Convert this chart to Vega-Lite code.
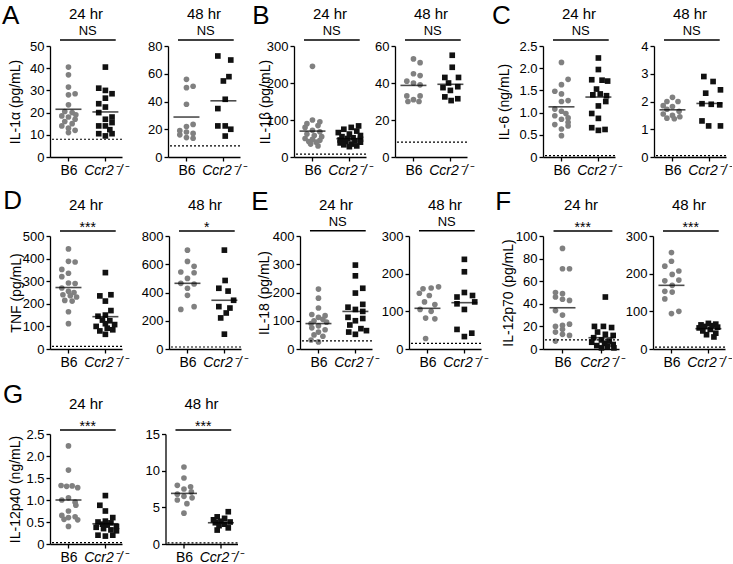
{
"$schema":"https://vega.github.io/schema/vega-lite/v6.json",
"padding":{"left":2,"top":2,"right":0,"bottom":0},
"config":{
 "view":{"stroke":null},
 "font":"Liberation Sans",
 "axis":{"domainColor":"#000","domainWidth":1.3,"tickColor":"#000","tickWidth":1.3,"tickSize":4,"labelColor":"#000","labelFont":"Liberation Sans","titleColor":"#000","titleFont":"Liberation Sans","titleFontSize":14,"titleFontWeight":"normal","grid":false,"labelPadding":2,"labelFlush":false,"labelOverlap":false},
 "axisX":{"labelFontSize":14},
 "axisY":{"labelFontSize":13},
 "title":{"font":"Liberation Sans","fontSize":15,"fontWeight":"normal","color":"#000","offset":3}
},
"datasets":{
"panels":[
{"p":"A24","lod":8,"sig":"NS"},{"p":"A48","lod":8,"sig":"NS"},
{"p":"B24","lod":8,"sig":"NS"},{"p":"B48","lod":8,"sig":"NS"},
{"p":"C24","lod":0.03,"sig":"NS"},{"p":"C48","lod":0.05,"sig":"NS"},
{"p":"D24","lod":12,"sig":"***"},{"p":"D48","lod":14,"sig":"*"},
{"p":"E24","lod":29,"sig":"NS"},{"p":"E48","lod":15,"sig":"NS"},
{"p":"F24","lod":8,"sig":"***"},{"p":"F48","lod":5,"sig":"***"},
{"p":"G24","lod":0.03,"sig":"***"},{"p":"G48","lod":0.15,"sig":"***"}
],
"means":[
{"p":"A24","x":1,"m":21.5},{"p":"A24","x":2,"m":20.3},{"p":"A48","x":1,"m":28.8},{"p":"A48","x":2,"m":40.5},
{"p":"B24","x":1,"m":70},{"p":"B24","x":2,"m":49.5},{"p":"B48","x":1,"m":38.7},{"p":"B48","x":2,"m":39.3},
{"p":"C24","x":1,"m":1.13},{"p":"C24","x":2,"m":1.35},{"p":"C48","x":1,"m":1.7},{"p":"C48","x":2,"m":1.93},
{"p":"D24","x":1,"m":272},{"p":"D24","x":2,"m":143},{"p":"D48","x":1,"m":465},{"p":"D48","x":2,"m":345},
{"p":"E24","x":1,"m":90},{"p":"E24","x":2,"m":133},{"p":"E48","x":1,"m":108},{"p":"E48","x":2,"m":123},
{"p":"F24","x":1,"m":36.5},{"p":"F24","x":2,"m":10},{"p":"F48","x":1,"m":169},{"p":"F48","x":2,"m":54},
{"p":"G24","x":1,"m":1.0},{"p":"G24","x":2,"m":0.46},{"p":"G48","x":1,"m":6.9},{"p":"G48","x":2,"m":2.9}
],
"pts":[
{"p":"A24","g":"B6","x":1,"y":40.5},{"p":"A24","g":"B6","x":1,"y":37},{"p":"A24","g":"B6","x":1,"y":31.5},{"p":"A24","g":"B6","x":1.18,"y":28.5},{"p":"A24","g":"B6","x":1,"y":28},{"p":"A24","g":"B6","x":1,"y":23.5},{"p":"A24","g":"B6","x":0.9,"y":20.5},{"p":"A24","g":"B6","x":1.1,"y":20},{"p":"A24","g":"B6","x":1.2,"y":19},{"p":"A24","g":"B6","x":0.82,"y":18.5},{"p":"A24","g":"B6","x":1,"y":18},{"p":"A24","g":"B6","x":1.18,"y":17},{"p":"A24","g":"B6","x":0.9,"y":16},{"p":"A24","g":"B6","x":1.1,"y":15},{"p":"A24","g":"B6","x":0.82,"y":14},{"p":"A24","g":"B6","x":1,"y":13},{"p":"A24","g":"B6","x":1.18,"y":12},{"p":"A24","g":"B6","x":1,"y":11},
{"p":"A24","g":"Ccr2","x":2,"y":40.5},{"p":"A24","g":"Ccr2","x":1.82,"y":31},{"p":"A24","g":"Ccr2","x":2,"y":30},{"p":"A24","g":"Ccr2","x":2.18,"y":28.5},{"p":"A24","g":"Ccr2","x":2,"y":26.5},{"p":"A24","g":"Ccr2","x":1.82,"y":24},{"p":"A24","g":"Ccr2","x":2,"y":22.5},{"p":"A24","g":"Ccr2","x":1.82,"y":20},{"p":"A24","g":"Ccr2","x":2.18,"y":18},{"p":"A24","g":"Ccr2","x":2,"y":17},{"p":"A24","g":"Ccr2","x":2.18,"y":15.5},{"p":"A24","g":"Ccr2","x":1.82,"y":14},{"p":"A24","g":"Ccr2","x":2,"y":14},{"p":"A24","g":"Ccr2","x":2.12,"y":12.3},{"p":"A24","g":"Ccr2","x":1.82,"y":10.5},{"p":"A24","g":"Ccr2","x":2.18,"y":10.5},{"p":"A24","g":"Ccr2","x":2,"y":9.5},
{"p":"A48","g":"B6","x":1,"y":56},{"p":"A48","g":"B6","x":1.18,"y":51},{"p":"A48","g":"B6","x":1,"y":50},{"p":"A48","g":"B6","x":1,"y":38},{"p":"A48","g":"B6","x":1.18,"y":23.5},{"p":"A48","g":"B6","x":1,"y":22},{"p":"A48","g":"B6","x":0.82,"y":19},{"p":"A48","g":"B6","x":1,"y":18},{"p":"A48","g":"B6","x":1.18,"y":17},{"p":"A48","g":"B6","x":0.82,"y":16},{"p":"A48","g":"B6","x":1,"y":14},{"p":"A48","g":"B6","x":1.18,"y":13.5},
{"p":"A48","g":"Ccr2","x":1.85,"y":72.8},{"p":"A48","g":"Ccr2","x":2.2,"y":69.9},{"p":"A48","g":"Ccr2","x":2.15,"y":57.9},{"p":"A48","g":"Ccr2","x":2,"y":54.8},{"p":"A48","g":"Ccr2","x":2.05,"y":41.6},{"p":"A48","g":"Ccr2","x":1.85,"y":34.9},{"p":"A48","g":"Ccr2","x":1.85,"y":22.4},{"p":"A48","g":"Ccr2","x":2.05,"y":22.4},{"p":"A48","g":"Ccr2","x":2.2,"y":20},{"p":"A48","g":"Ccr2","x":2.05,"y":15.1},
{"p":"B24","g":"B6","x":1,"y":245},{"p":"B24","g":"B6","x":1,"y":100},{"p":"B24","g":"B6","x":1.2,"y":95},{"p":"B24","g":"B6","x":0.85,"y":90},{"p":"B24","g":"B6","x":1.15,"y":85},{"p":"B24","g":"B6","x":0.8,"y":80},{"p":"B24","g":"B6","x":1,"y":72},{"p":"B24","g":"B6","x":1.2,"y":68},{"p":"B24","g":"B6","x":0.85,"y":62},{"p":"B24","g":"B6","x":1.05,"y":58},{"p":"B24","g":"B6","x":1.25,"y":55},{"p":"B24","g":"B6","x":0.8,"y":50},{"p":"B24","g":"B6","x":1,"y":48},{"p":"B24","g":"B6","x":1.2,"y":45},{"p":"B24","g":"B6","x":0.9,"y":42},{"p":"B24","g":"B6","x":1.1,"y":40},{"p":"B24","g":"B6","x":0.95,"y":35},{"p":"B24","g":"B6","x":1.15,"y":30},
{"p":"B24","g":"Ccr2","x":2.25,"y":84},{"p":"B24","g":"Ccr2","x":2.05,"y":80},{"p":"B24","g":"Ccr2","x":1.85,"y":75},{"p":"B24","g":"Ccr2","x":2.2,"y":70},{"p":"B24","g":"Ccr2","x":1.7,"y":66},{"p":"B24","g":"Ccr2","x":2,"y":62},{"p":"B24","g":"Ccr2","x":2.3,"y":58},{"p":"B24","g":"Ccr2","x":1.8,"y":55},{"p":"B24","g":"Ccr2","x":2.1,"y":52},{"p":"B24","g":"Ccr2","x":1.95,"y":50},{"p":"B24","g":"Ccr2","x":2.3,"y":48},{"p":"B24","g":"Ccr2","x":1.75,"y":46},{"p":"B24","g":"Ccr2","x":2.15,"y":44},{"p":"B24","g":"Ccr2","x":1.9,"y":42},{"p":"B24","g":"Ccr2","x":2.3,"y":40},{"p":"B24","g":"Ccr2","x":1.75,"y":38},{"p":"B24","g":"Ccr2","x":2.05,"y":35},{"p":"B24","g":"Ccr2","x":1.85,"y":33},{"p":"B24","g":"Ccr2","x":2.2,"y":30},{"p":"B24","g":"Ccr2","x":2,"y":28},
{"p":"B48","g":"B6","x":1,"y":53},{"p":"B48","g":"B6","x":1.18,"y":51},{"p":"B48","g":"B6","x":1,"y":45},{"p":"B48","g":"B6","x":1.18,"y":44},{"p":"B48","g":"B6","x":0.82,"y":41},{"p":"B48","g":"B6","x":1,"y":40},{"p":"B48","g":"B6","x":1.18,"y":39},{"p":"B48","g":"B6","x":0.82,"y":33},{"p":"B48","g":"B6","x":1.18,"y":33},{"p":"B48","g":"B6","x":1,"y":31},{"p":"B48","g":"B6","x":0.85,"y":30},{"p":"B48","g":"B6","x":1.15,"y":30},
{"p":"B48","g":"Ccr2","x":2.05,"y":55},{"p":"B48","g":"Ccr2","x":2.05,"y":48.5},{"p":"B48","g":"Ccr2","x":1.85,"y":43},{"p":"B48","g":"Ccr2","x":2.22,"y":43},{"p":"B48","g":"Ccr2","x":1.95,"y":40},{"p":"B48","g":"Ccr2","x":2.2,"y":38},{"p":"B48","g":"Ccr2","x":1.8,"y":37.5},{"p":"B48","g":"Ccr2","x":2,"y":36},{"p":"B48","g":"Ccr2","x":1.85,"y":32.5},{"p":"B48","g":"Ccr2","x":2.2,"y":31.5},{"p":"B48","g":"Ccr2","x":2.02,"y":30.5},
{"p":"C24","g":"B6","x":1,"y":2.13},{"p":"C24","g":"B6","x":1.18,"y":1.75},{"p":"C24","g":"B6","x":1,"y":1.63},{"p":"C24","g":"B6","x":0.82,"y":1.48},{"p":"C24","g":"B6","x":1,"y":1.42},{"p":"C24","g":"B6","x":1.18,"y":1.27},{"p":"C24","g":"B6","x":1,"y":1.25},{"p":"C24","g":"B6","x":0.82,"y":1.08},{"p":"C24","g":"B6","x":1,"y":1.03},{"p":"C24","g":"B6","x":1.12,"y":0.98},{"p":"C24","g":"B6","x":0.82,"y":0.93},{"p":"C24","g":"B6","x":1.18,"y":0.88},{"p":"C24","g":"B6","x":1,"y":0.85},{"p":"C24","g":"B6","x":1.18,"y":0.78},{"p":"C24","g":"B6","x":0.82,"y":0.73},{"p":"C24","g":"B6","x":1.18,"y":0.7},{"p":"C24","g":"B6","x":1,"y":0.63},{"p":"C24","g":"B6","x":1,"y":0.48},
{"p":"C24","g":"Ccr2","x":2,"y":2.23},{"p":"C24","g":"Ccr2","x":2,"y":1.97},{"p":"C24","g":"Ccr2","x":1.82,"y":1.74},{"p":"C24","g":"Ccr2","x":2.1,"y":1.73},{"p":"C24","g":"Ccr2","x":2.25,"y":1.71},{"p":"C24","g":"Ccr2","x":1.95,"y":1.53},{"p":"C24","g":"Ccr2","x":2.05,"y":1.42},{"p":"C24","g":"Ccr2","x":1.85,"y":1.4},{"p":"C24","g":"Ccr2","x":2.22,"y":1.38},{"p":"C24","g":"Ccr2","x":2.2,"y":1.25},{"p":"C24","g":"Ccr2","x":2,"y":1.15},{"p":"C24","g":"Ccr2","x":1.82,"y":0.98},{"p":"C24","g":"Ccr2","x":2,"y":0.87},{"p":"C24","g":"Ccr2","x":1.82,"y":0.66},{"p":"C24","g":"Ccr2","x":2,"y":0.6},{"p":"C24","g":"Ccr2","x":2.18,"y":0.62},
{"p":"C48","g":"B6","x":1,"y":2.15},{"p":"C48","g":"B6","x":0.85,"y":2.0},{"p":"C48","g":"B6","x":1.15,"y":2.0},{"p":"C48","g":"B6","x":0.75,"y":1.85},{"p":"C48","g":"B6","x":1,"y":1.82},{"p":"C48","g":"B6","x":0.85,"y":1.72},{"p":"C48","g":"B6","x":1.18,"y":1.65},{"p":"C48","g":"B6","x":0.75,"y":1.55},{"p":"C48","g":"B6","x":1,"y":1.5},{"p":"C48","g":"B6","x":1.2,"y":1.45},{"p":"C48","g":"B6","x":0.85,"y":1.4},{"p":"C48","g":"B6","x":1.05,"y":1.38},
{"p":"C48","g":"Ccr2","x":1.85,"y":2.9},{"p":"C48","g":"Ccr2","x":2.1,"y":2.72},{"p":"C48","g":"Ccr2","x":2.3,"y":2.42},{"p":"C48","g":"Ccr2","x":1.9,"y":2.3},{"p":"C48","g":"Ccr2","x":1.8,"y":1.92},{"p":"C48","g":"Ccr2","x":2.05,"y":1.9},{"p":"C48","g":"Ccr2","x":2.28,"y":1.88},{"p":"C48","g":"Ccr2","x":1.8,"y":1.3},{"p":"C48","g":"Ccr2","x":2.3,"y":1.12},{"p":"C48","g":"Ccr2","x":1.98,"y":1.12},
{"p":"D24","g":"B6","x":1,"y":443},{"p":"D24","g":"B6","x":1,"y":388},{"p":"D24","g":"B6","x":1.18,"y":385},{"p":"D24","g":"B6","x":0.82,"y":352},{"p":"D24","g":"B6","x":1,"y":335},{"p":"D24","g":"B6","x":0.82,"y":320},{"p":"D24","g":"B6","x":1,"y":292},{"p":"D24","g":"B6","x":1.18,"y":290},{"p":"D24","g":"B6","x":0.82,"y":270},{"p":"D24","g":"B6","x":1,"y":255},{"p":"D24","g":"B6","x":1.15,"y":250},{"p":"D24","g":"B6","x":0.85,"y":240},{"p":"D24","g":"B6","x":1.05,"y":236},{"p":"D24","g":"B6","x":1.22,"y":230},{"p":"D24","g":"B6","x":0.9,"y":215},{"p":"D24","g":"B6","x":1.1,"y":212},{"p":"D24","g":"B6","x":1,"y":165},{"p":"D24","g":"B6","x":1,"y":112},
{"p":"D24","g":"Ccr2","x":2,"y":338},{"p":"D24","g":"Ccr2","x":1.85,"y":235},{"p":"D24","g":"Ccr2","x":2.15,"y":240},{"p":"D24","g":"Ccr2","x":2,"y":212},{"p":"D24","g":"Ccr2","x":2.15,"y":170},{"p":"D24","g":"Ccr2","x":2,"y":150},{"p":"D24","g":"Ccr2","x":1.8,"y":145},{"p":"D24","g":"Ccr2","x":1.92,"y":128},{"p":"D24","g":"Ccr2","x":2.12,"y":125},{"p":"D24","g":"Ccr2","x":2,"y":112},{"p":"D24","g":"Ccr2","x":2.25,"y":108},{"p":"D24","g":"Ccr2","x":1.75,"y":100},{"p":"D24","g":"Ccr2","x":2.05,"y":92},{"p":"D24","g":"Ccr2","x":2.2,"y":85},{"p":"D24","g":"Ccr2","x":1.85,"y":80},{"p":"D24","g":"Ccr2","x":2,"y":65},
{"p":"D48","g":"B6","x":1,"y":700},{"p":"D48","g":"B6","x":1,"y":620},{"p":"D48","g":"B6","x":1.18,"y":585},{"p":"D48","g":"B6","x":0.82,"y":545},{"p":"D48","g":"B6","x":1.18,"y":540},{"p":"D48","g":"B6","x":1,"y":500},{"p":"D48","g":"B6","x":0.82,"y":465},{"p":"D48","g":"B6","x":1.18,"y":460},{"p":"D48","g":"B6","x":1,"y":430},{"p":"D48","g":"B6","x":1,"y":380},{"p":"D48","g":"B6","x":1.18,"y":300},{"p":"D48","g":"B6","x":0.82,"y":280},
{"p":"D48","g":"Ccr2","x":2,"y":700},{"p":"D48","g":"Ccr2","x":2.02,"y":485},{"p":"D48","g":"Ccr2","x":1.85,"y":430},{"p":"D48","g":"Ccr2","x":2.1,"y":410},{"p":"D48","g":"Ccr2","x":2.25,"y":345},{"p":"D48","g":"Ccr2","x":1.85,"y":300},{"p":"D48","g":"Ccr2","x":2.15,"y":290},{"p":"D48","g":"Ccr2","x":2.05,"y":255},{"p":"D48","g":"Ccr2","x":1.9,"y":220},{"p":"D48","g":"Ccr2","x":2,"y":105},
{"p":"E24","g":"B6","x":1,"y":212},{"p":"E24","g":"B6","x":1,"y":180},{"p":"E24","g":"B6","x":1,"y":145},{"p":"E24","g":"B6","x":0.82,"y":122},{"p":"E24","g":"B6","x":1.18,"y":118},{"p":"E24","g":"B6","x":1,"y":112},{"p":"E24","g":"B6","x":1.12,"y":105},{"p":"E24","g":"B6","x":0.88,"y":100},{"p":"E24","g":"B6","x":1.22,"y":95},{"p":"E24","g":"B6","x":0.8,"y":90},{"p":"E24","g":"B6","x":1,"y":82},{"p":"E24","g":"B6","x":0.82,"y":75},{"p":"E24","g":"B6","x":1.18,"y":68},{"p":"E24","g":"B6","x":1,"y":60},{"p":"E24","g":"B6","x":0.88,"y":50},{"p":"E24","g":"B6","x":1.12,"y":45},{"p":"E24","g":"B6","x":0.8,"y":32},{"p":"E24","g":"B6","x":1,"y":25},
{"p":"E24","g":"Ccr2","x":2,"y":297},{"p":"E24","g":"Ccr2","x":2,"y":259},{"p":"E24","g":"Ccr2","x":2.2,"y":215},{"p":"E24","g":"Ccr2","x":2,"y":198},{"p":"E24","g":"Ccr2","x":2.2,"y":158},{"p":"E24","g":"Ccr2","x":1.8,"y":148},{"p":"E24","g":"Ccr2","x":2,"y":140},{"p":"E24","g":"Ccr2","x":2.2,"y":133},{"p":"E24","g":"Ccr2","x":1.8,"y":112},{"p":"E24","g":"Ccr2","x":2.2,"y":108},{"p":"E24","g":"Ccr2","x":2,"y":100},{"p":"E24","g":"Ccr2","x":1.85,"y":85},{"p":"E24","g":"Ccr2","x":2.15,"y":72},{"p":"E24","g":"Ccr2","x":2.3,"y":65},{"p":"E24","g":"Ccr2","x":1.82,"y":60},{"p":"E24","g":"Ccr2","x":2,"y":52},
{"p":"E48","g":"B6","x":1.3,"y":165},{"p":"E48","g":"B6","x":1.1,"y":162},{"p":"E48","g":"B6","x":0.88,"y":160},{"p":"E48","g":"B6","x":0.78,"y":148},{"p":"E48","g":"B6","x":1.05,"y":142},{"p":"E48","g":"B6","x":0.92,"y":125},{"p":"E48","g":"B6","x":1.2,"y":118},{"p":"E48","g":"B6","x":0.8,"y":105},{"p":"E48","g":"B6","x":1.1,"y":100},{"p":"E48","g":"B6","x":0.95,"y":82},{"p":"E48","g":"B6","x":1.2,"y":80},{"p":"E48","g":"B6","x":0.95,"y":28},
{"p":"E48","g":"Ccr2","x":2,"y":238},{"p":"E48","g":"Ccr2","x":2,"y":205},{"p":"E48","g":"Ccr2","x":2,"y":150},{"p":"E48","g":"Ccr2","x":2.22,"y":142},{"p":"E48","g":"Ccr2","x":1.8,"y":138},{"p":"E48","g":"Ccr2","x":2.28,"y":125},{"p":"E48","g":"Ccr2","x":1.8,"y":120},{"p":"E48","g":"Ccr2","x":2,"y":105},{"p":"E48","g":"Ccr2","x":1.8,"y":52},{"p":"E48","g":"Ccr2","x":2.2,"y":42},{"p":"E48","g":"Ccr2","x":2,"y":33},
{"p":"F24","g":"B6","x":1,"y":89},{"p":"F24","g":"B6","x":1,"y":71},{"p":"F24","g":"B6","x":1.18,"y":71},{"p":"F24","g":"B6","x":0.82,"y":50},{"p":"F24","g":"B6","x":1,"y":49},{"p":"F24","g":"B6","x":0.82,"y":46},{"p":"F24","g":"B6","x":1,"y":44},{"p":"F24","g":"B6","x":1.18,"y":43},{"p":"F24","g":"B6","x":0.82,"y":34},{"p":"F24","g":"B6","x":1,"y":30},{"p":"F24","g":"B6","x":1.18,"y":22},{"p":"F24","g":"B6","x":1,"y":21},{"p":"F24","g":"B6","x":0.82,"y":20},{"p":"F24","g":"B6","x":1,"y":17.5},{"p":"F24","g":"B6","x":0.82,"y":15},{"p":"F24","g":"B6","x":1,"y":13},{"p":"F24","g":"B6","x":1.18,"y":12},{"p":"F24","g":"B6","x":0.82,"y":7},
{"p":"F24","g":"Ccr2","x":2.1,"y":46},{"p":"F24","g":"Ccr2","x":1.82,"y":20},{"p":"F24","g":"Ccr2","x":2.05,"y":20},{"p":"F24","g":"Ccr2","x":2.26,"y":19},{"p":"F24","g":"Ccr2","x":1.9,"y":15},{"p":"F24","g":"Ccr2","x":2.1,"y":13},{"p":"F24","g":"Ccr2","x":2.3,"y":12},{"p":"F24","g":"Ccr2","x":1.8,"y":10},{"p":"F24","g":"Ccr2","x":2,"y":8},{"p":"F24","g":"Ccr2","x":2.2,"y":7},{"p":"F24","g":"Ccr2","x":1.75,"y":6},{"p":"F24","g":"Ccr2","x":2.08,"y":5},{"p":"F24","g":"Ccr2","x":2.3,"y":4},{"p":"F24","g":"Ccr2","x":1.88,"y":3},{"p":"F24","g":"Ccr2","x":2.15,"y":2},{"p":"F24","g":"Ccr2","x":2,"y":1},{"p":"F24","g":"Ccr2","x":2.32,"y":1},
{"p":"F48","g":"B6","x":1,"y":256},{"p":"F48","g":"B6","x":1,"y":233},{"p":"F48","g":"B6","x":0.82,"y":220},{"p":"F48","g":"B6","x":1.2,"y":207},{"p":"F48","g":"B6","x":1.02,"y":198},{"p":"F48","g":"B6","x":0.82,"y":181},{"p":"F48","g":"B6","x":1.2,"y":183},{"p":"F48","g":"B6","x":1.02,"y":169},{"p":"F48","g":"B6","x":0.82,"y":153},{"p":"F48","g":"B6","x":1.02,"y":151},{"p":"F48","g":"B6","x":0.82,"y":133},{"p":"F48","g":"B6","x":1,"y":94},{"p":"F48","g":"B6","x":1.2,"y":100},
{"p":"F48","g":"Ccr2","x":2,"y":68},{"p":"F48","g":"Ccr2","x":2.2,"y":66},{"p":"F48","g":"Ccr2","x":1.8,"y":64},{"p":"F48","g":"Ccr2","x":2.1,"y":62},{"p":"F48","g":"Ccr2","x":1.9,"y":60},{"p":"F48","g":"Ccr2","x":2.25,"y":58},{"p":"F48","g":"Ccr2","x":1.75,"y":56},{"p":"F48","g":"Ccr2","x":2.05,"y":52},{"p":"F48","g":"Ccr2","x":1.85,"y":48},{"p":"F48","g":"Ccr2","x":2.2,"y":42},{"p":"F48","g":"Ccr2","x":1.95,"y":38},{"p":"F48","g":"Ccr2","x":2.15,"y":32},
{"p":"G24","g":"B6","x":1,"y":2.23},{"p":"G24","g":"B6","x":1,"y":1.68},{"p":"G24","g":"B6","x":0.8,"y":1.33},{"p":"G24","g":"B6","x":0.95,"y":1.31},{"p":"G24","g":"B6","x":1.1,"y":1.32},{"p":"G24","g":"B6","x":1.25,"y":1.28},{"p":"G24","g":"B6","x":1,"y":1.05},{"p":"G24","g":"B6","x":0.82,"y":1.0},{"p":"G24","g":"B6","x":1.18,"y":0.95},{"p":"G24","g":"B6","x":1.2,"y":0.88},{"p":"G24","g":"B6","x":1,"y":0.75},{"p":"G24","g":"B6","x":0.82,"y":0.65},{"p":"G24","g":"B6","x":1.18,"y":0.62},{"p":"G24","g":"B6","x":1,"y":0.6},{"p":"G24","g":"B6","x":0.88,"y":0.56},{"p":"G24","g":"B6","x":1.25,"y":0.55},{"p":"G24","g":"B6","x":1,"y":0.4},
{"p":"G24","g":"Ccr2","x":2,"y":1.1},{"p":"G24","g":"Ccr2","x":1.85,"y":0.88},{"p":"G24","g":"Ccr2","x":2,"y":0.75},{"p":"G24","g":"Ccr2","x":2.2,"y":0.6},{"p":"G24","g":"Ccr2","x":2,"y":0.52},{"p":"G24","g":"Ccr2","x":1.8,"y":0.5},{"p":"G24","g":"Ccr2","x":2.15,"y":0.48},{"p":"G24","g":"Ccr2","x":1.92,"y":0.45},{"p":"G24","g":"Ccr2","x":2.05,"y":0.43},{"p":"G24","g":"Ccr2","x":2.3,"y":0.4},{"p":"G24","g":"Ccr2","x":1.75,"y":0.38},{"p":"G24","g":"Ccr2","x":1.95,"y":0.35},{"p":"G24","g":"Ccr2","x":2.15,"y":0.32},{"p":"G24","g":"Ccr2","x":2.3,"y":0.3},{"p":"G24","g":"Ccr2","x":1.8,"y":0.2},{"p":"G24","g":"Ccr2","x":2,"y":0.18},{"p":"G24","g":"Ccr2","x":2.2,"y":0.2},
{"p":"G48","g":"B6","x":1,"y":10.5},{"p":"G48","g":"B6","x":1,"y":9.0},{"p":"G48","g":"B6","x":0.82,"y":8.0},{"p":"G48","g":"B6","x":1.18,"y":7.8},{"p":"G48","g":"B6","x":1,"y":7.5},{"p":"G48","g":"B6","x":1.2,"y":7.1},{"p":"G48","g":"B6","x":0.82,"y":6.8},{"p":"G48","g":"B6","x":1,"y":6.5},{"p":"G48","g":"B6","x":1.22,"y":6.3},{"p":"G48","g":"B6","x":0.82,"y":6.0},{"p":"G48","g":"B6","x":1.08,"y":5.5},{"p":"G48","g":"B6","x":1,"y":4.2},
{"p":"G48","g":"Ccr2","x":2.2,"y":4.4},{"p":"G48","g":"Ccr2","x":1.9,"y":3.7},{"p":"G48","g":"Ccr2","x":2.1,"y":3.5},{"p":"G48","g":"Ccr2","x":1.8,"y":3.3},{"p":"G48","g":"Ccr2","x":2,"y":3.1},{"p":"G48","g":"Ccr2","x":2.25,"y":3.0},{"p":"G48","g":"Ccr2","x":1.85,"y":2.9},{"p":"G48","g":"Ccr2","x":2.1,"y":2.7},{"p":"G48","g":"Ccr2","x":1.95,"y":2.5},{"p":"G48","g":"Ccr2","x":2.2,"y":2.2},{"p":"G48","g":"Ccr2","x":1.9,"y":1.9}
]
},
"spacing":12,
"vconcat":[
{"spacing":11,"vconcat":[
{"spacing":18,"hconcat":[
{"spacing":6,"hconcat":[
 {"title":{"text":"A","anchor":"start","fontSize":26,"offset":-22,"dx":-6,"frame":"bounds"},"spacing":19,"hconcat":[
  {"width":72,"height":111,"title":"24 hr","layer":[
   {"data":{"name":"pts"},"transform":[{"filter":"datum.p == 'A24'"}],"mark":{"type":"point","filled":true,"size":32,"opacity":1},"encoding":{
    "x":{"field":"x","type":"quantitative","scale":{"domain":[0.5,2.45],"nice":false,"zero":false},"axis":{"values":[1,2],"title":null,"labelExpr":"datum.value == 1 ? 'B6' : 'Ccr2⁻/⁻'","labelFontStyle":{"condition":{"test":"datum.value == 2","value":"italic"},"value":"normal"}}},
    "y":{"field":"y","type":"quantitative","scale":{"domain":[0,50],"nice":false},"axis":{"values":[0,10,20,30,40,50],"title":"IL-1α (pg/mL)","titlePadding":7.5}},
    "shape":{"field":"g","type":"nominal","scale":{"domain":["B6","Ccr2"],"range":["circle","square"]},"legend":null},
    "color":{"field":"g","type":"nominal","scale":{"domain":["B6","Ccr2"],"range":["#808080","#111111"]},"legend":null}}},
   {"data":{"name":"means"},"transform":[{"filter":"datum.p == 'A24'"}],"mark":{"type":"tick","orient":"horizontal","size":26,"thickness":1.6,"color":"#000"},"encoding":{"x":{"field":"x","type":"quantitative","title":null},"y":{"field":"m","type":"quantitative","axis":{"values":[0,10,20,30,40,50],"title":"IL-1α (pg/mL)","titlePadding":7.5}}}},
   {"data":{"name":"panels"},"transform":[{"filter":"datum.p == 'A24'"}],"mark":{"type":"rule","strokeDash":[2,2],"color":"#000","strokeWidth":1.2},"encoding":{"y":{"field":"lod","type":"quantitative","axis":{"values":[0,10,20,30,40,50],"title":"IL-1α (pg/mL)","titlePadding":7.5}}}},
   {"data":{"name":"panels"},"transform":[{"filter":"datum.p == 'A24'"}],"mark":{"type":"rule","color":"#000","strokeWidth":1.5},"encoding":{"x":{"datum":0.77},"x2":{"datum":2.28},"y":{"datum":52.7,"axis":{"values":[0,10,20,30,40,50],"title":"IL-1α (pg/mL)","titlePadding":7.5}}}},
   {"data":{"name":"panels"},"transform":[{"filter":"datum.p == 'A24'"}],"mark":{"type":"text","baseline":"bottom","dy":-2,"fontSize":13,"color":"#000"},"encoding":{"text":{"field":"sig"},"x":{"datum":1.52},"y":{"datum":52.7,"axis":{"values":[0,10,20,30,40,50],"title":"IL-1α (pg/mL)","titlePadding":7.5}}}}
  ]},
  {"width":72,"height":111,"title":"48 hr","layer":[
   {"data":{"name":"pts"},"transform":[{"filter":"datum.p == 'A48'"}],"mark":{"type":"point","filled":true,"size":32,"opacity":1},"encoding":{
    "x":{"field":"x","type":"quantitative","scale":{"domain":[0.5,2.45],"nice":false,"zero":false},"axis":{"values":[1,2],"title":null,"labelExpr":"datum.value == 1 ? 'B6' : 'Ccr2⁻/⁻'","labelFontStyle":{"condition":{"test":"datum.value == 2","value":"italic"},"value":"normal"}}},
    "y":{"field":"y","type":"quantitative","scale":{"domain":[0,80],"nice":false},"axis":{"values":[0,20,40,60,80],"title":null}},
    "shape":{"field":"g","type":"nominal","scale":{"domain":["B6","Ccr2"],"range":["circle","square"]},"legend":null},
    "color":{"field":"g","type":"nominal","scale":{"domain":["B6","Ccr2"],"range":["#808080","#111111"]},"legend":null}}},
   {"data":{"name":"means"},"transform":[{"filter":"datum.p == 'A48'"}],"mark":{"type":"tick","orient":"horizontal","size":26,"thickness":1.6,"color":"#000"},"encoding":{"x":{"field":"x","type":"quantitative","title":null},"y":{"field":"m","type":"quantitative","axis":{"values":[0,20,40,60,80],"title":null}}}},
   {"data":{"name":"panels"},"transform":[{"filter":"datum.p == 'A48'"}],"mark":{"type":"rule","strokeDash":[2,2],"color":"#000","strokeWidth":1.2},"encoding":{"y":{"field":"lod","type":"quantitative","axis":{"values":[0,20,40,60,80],"title":null}}}},
   {"data":{"name":"panels"},"transform":[{"filter":"datum.p == 'A48'"}],"mark":{"type":"rule","color":"#000","strokeWidth":1.5},"encoding":{"x":{"datum":0.77},"x2":{"datum":2.28},"y":{"datum":84.3,"axis":{"values":[0,20,40,60,80],"title":null}}}},
   {"data":{"name":"panels"},"transform":[{"filter":"datum.p == 'A48'"}],"mark":{"type":"text","baseline":"bottom","dy":-2,"fontSize":13,"color":"#000"},"encoding":{"text":{"field":"sig"},"x":{"datum":1.52},"y":{"datum":84.3,"axis":{"values":[0,20,40,60,80],"title":null}}}}
  ]}
 ]},
 {"title":{"text":"B","anchor":"start","fontSize":26,"offset":-22,"dx":-6,"frame":"bounds"},"spacing":2,"hconcat":[
  {"width":72,"height":111,"title":"24 hr","layer":[
   {"data":{"name":"pts"},"transform":[{"filter":"datum.p == 'B24'"}],"mark":{"type":"point","filled":true,"size":32,"opacity":1},"encoding":{
    "x":{"field":"x","type":"quantitative","scale":{"domain":[0.5,2.45],"nice":false,"zero":false},"axis":{"values":[1,2],"title":null,"labelExpr":"datum.value == 1 ? 'B6' : 'Ccr2⁻/⁻'","labelFontStyle":{"condition":{"test":"datum.value == 2","value":"italic"},"value":"normal"}}},
    "y":{"field":"y","type":"quantitative","scale":{"domain":[0,300],"nice":false},"axis":{"values":[0,100,200,300],"title":"IL-1β (pg/mL)","titlePadding":-6}},
    "shape":{"field":"g","type":"nominal","scale":{"domain":["B6","Ccr2"],"range":["circle","square"]},"legend":null},
    "color":{"field":"g","type":"nominal","scale":{"domain":["B6","Ccr2"],"range":["#808080","#111111"]},"legend":null}}},
   {"data":{"name":"means"},"transform":[{"filter":"datum.p == 'B24'"}],"mark":{"type":"tick","orient":"horizontal","size":26,"thickness":1.6,"color":"#000"},"encoding":{"x":{"field":"x","type":"quantitative","title":null},"y":{"field":"m","type":"quantitative","axis":{"values":[0,100,200,300],"title":"IL-1β (pg/mL)","titlePadding":-6}}}},
   {"data":{"name":"panels"},"transform":[{"filter":"datum.p == 'B24'"}],"mark":{"type":"rule","strokeDash":[2,2],"color":"#000","strokeWidth":1.2},"encoding":{"y":{"field":"lod","type":"quantitative","axis":{"values":[0,100,200,300],"title":"IL-1β (pg/mL)","titlePadding":-6}}}},
   {"data":{"name":"panels"},"transform":[{"filter":"datum.p == 'B24'"}],"mark":{"type":"rule","color":"#000","strokeWidth":1.5},"encoding":{"x":{"datum":0.77},"x2":{"datum":2.28},"y":{"datum":316,"axis":{"values":[0,100,200,300],"title":"IL-1β (pg/mL)","titlePadding":-6}}}},
   {"data":{"name":"panels"},"transform":[{"filter":"datum.p == 'B24'"}],"mark":{"type":"text","baseline":"bottom","dy":-2,"fontSize":13,"color":"#000"},"encoding":{"text":{"field":"sig"},"x":{"datum":1.52},"y":{"datum":316,"axis":{"values":[0,100,200,300],"title":"IL-1β (pg/mL)","titlePadding":-6}}}}
  ]},
  {"width":72,"height":111,"title":"48 hr","layer":[
   {"data":{"name":"pts"},"transform":[{"filter":"datum.p == 'B48'"}],"mark":{"type":"point","filled":true,"size":32,"opacity":1},"encoding":{
    "x":{"field":"x","type":"quantitative","scale":{"domain":[0.5,2.45],"nice":false,"zero":false},"axis":{"values":[1,2],"title":null,"labelExpr":"datum.value == 1 ? 'B6' : 'Ccr2⁻/⁻'","labelFontStyle":{"condition":{"test":"datum.value == 2","value":"italic"},"value":"normal"}}},
    "y":{"field":"y","type":"quantitative","scale":{"domain":[0,60],"nice":false},"axis":{"values":[0,20,40,60],"title":null}},
    "shape":{"field":"g","type":"nominal","scale":{"domain":["B6","Ccr2"],"range":["circle","square"]},"legend":null},
    "color":{"field":"g","type":"nominal","scale":{"domain":["B6","Ccr2"],"range":["#808080","#111111"]},"legend":null}}},
   {"data":{"name":"means"},"transform":[{"filter":"datum.p == 'B48'"}],"mark":{"type":"tick","orient":"horizontal","size":26,"thickness":1.6,"color":"#000"},"encoding":{"x":{"field":"x","type":"quantitative","title":null},"y":{"field":"m","type":"quantitative","axis":{"values":[0,20,40,60],"title":null}}}},
   {"data":{"name":"panels"},"transform":[{"filter":"datum.p == 'B48'"}],"mark":{"type":"rule","strokeDash":[2,2],"color":"#000","strokeWidth":1.2},"encoding":{"y":{"field":"lod","type":"quantitative","axis":{"values":[0,20,40,60],"title":null}}}},
   {"data":{"name":"panels"},"transform":[{"filter":"datum.p == 'B48'"}],"mark":{"type":"rule","color":"#000","strokeWidth":1.5},"encoding":{"x":{"datum":0.77},"x2":{"datum":2.28},"y":{"datum":63.2,"axis":{"values":[0,20,40,60],"title":null}}}},
   {"data":{"name":"panels"},"transform":[{"filter":"datum.p == 'B48'"}],"mark":{"type":"text","baseline":"bottom","dy":-2,"fontSize":13,"color":"#000"},"encoding":{"text":{"field":"sig"},"x":{"datum":1.52},"y":{"datum":63.2,"axis":{"values":[0,20,40,60],"title":null}}}}
  ]}
 ]}
]},
 {"title":{"text":"C","anchor":"start","fontSize":26,"offset":-22,"dx":-6,"frame":"bounds"},"spacing":19,"hconcat":[
  {"width":72,"height":111,"title":"24 hr","layer":[
   {"data":{"name":"pts"},"transform":[{"filter":"datum.p == 'C24'"}],"mark":{"type":"point","filled":true,"size":32,"opacity":1},"encoding":{
    "x":{"field":"x","type":"quantitative","scale":{"domain":[0.5,2.45],"nice":false,"zero":false},"axis":{"values":[1,2],"title":null,"labelExpr":"datum.value == 1 ? 'B6' : 'Ccr2⁻/⁻'","labelFontStyle":{"condition":{"test":"datum.value == 2","value":"italic"},"value":"normal"}}},
    "y":{"field":"y","type":"quantitative","scale":{"domain":[0,2.5],"nice":false},"axis":{"values":[0,0.5,1,1.5,2,2.5],"labelExpr":"datum.value == 0 ? '0' : format(datum.value, '.1f')","title":"IL-6 (ng/mL)","titlePadding":7}},
    "shape":{"field":"g","type":"nominal","scale":{"domain":["B6","Ccr2"],"range":["circle","square"]},"legend":null},
    "color":{"field":"g","type":"nominal","scale":{"domain":["B6","Ccr2"],"range":["#808080","#111111"]},"legend":null}}},
   {"data":{"name":"means"},"transform":[{"filter":"datum.p == 'C24'"}],"mark":{"type":"tick","orient":"horizontal","size":26,"thickness":1.6,"color":"#000"},"encoding":{"x":{"field":"x","type":"quantitative","title":null},"y":{"field":"m","type":"quantitative","axis":{"values":[0,0.5,1,1.5,2,2.5],"labelExpr":"datum.value == 0 ? '0' : format(datum.value, '.1f')","title":"IL-6 (ng/mL)","titlePadding":7}}}},
   {"data":{"name":"panels"},"transform":[{"filter":"datum.p == 'C24'"}],"mark":{"type":"rule","strokeDash":[2,2],"color":"#000","strokeWidth":1.2},"encoding":{"y":{"field":"lod","type":"quantitative","axis":{"values":[0,0.5,1,1.5,2,2.5],"labelExpr":"datum.value == 0 ? '0' : format(datum.value, '.1f')","title":"IL-6 (ng/mL)","titlePadding":7}}}},
   {"data":{"name":"panels"},"transform":[{"filter":"datum.p == 'C24'"}],"mark":{"type":"rule","color":"#000","strokeWidth":1.5},"encoding":{"x":{"datum":0.77},"x2":{"datum":2.28},"y":{"datum":2.635,"axis":{"values":[0,0.5,1,1.5,2,2.5],"labelExpr":"datum.value == 0 ? '0' : format(datum.value, '.1f')","title":"IL-6 (ng/mL)","titlePadding":7}}}},
   {"data":{"name":"panels"},"transform":[{"filter":"datum.p == 'C24'"}],"mark":{"type":"text","baseline":"bottom","dy":-2,"fontSize":13,"color":"#000"},"encoding":{"text":{"field":"sig"},"x":{"datum":1.52},"y":{"datum":2.635,"axis":{"values":[0,0.5,1,1.5,2,2.5],"labelExpr":"datum.value == 0 ? '0' : format(datum.value, '.1f')","title":"IL-6 (ng/mL)","titlePadding":7}}}}
  ]},
  {"width":72,"height":111,"title":"48 hr","layer":[
   {"data":{"name":"pts"},"transform":[{"filter":"datum.p == 'C48'"}],"mark":{"type":"point","filled":true,"size":32,"opacity":1},"encoding":{
    "x":{"field":"x","type":"quantitative","scale":{"domain":[0.5,2.45],"nice":false,"zero":false},"axis":{"values":[1,2],"title":null,"labelExpr":"datum.value == 1 ? 'B6' : 'Ccr2⁻/⁻'","labelFontStyle":{"condition":{"test":"datum.value == 2","value":"italic"},"value":"normal"}}},
    "y":{"field":"y","type":"quantitative","scale":{"domain":[0,4],"nice":false},"axis":{"values":[0,1,2,3,4],"title":null}},
    "shape":{"field":"g","type":"nominal","scale":{"domain":["B6","Ccr2"],"range":["circle","square"]},"legend":null},
    "color":{"field":"g","type":"nominal","scale":{"domain":["B6","Ccr2"],"range":["#808080","#111111"]},"legend":null}}},
   {"data":{"name":"means"},"transform":[{"filter":"datum.p == 'C48'"}],"mark":{"type":"tick","orient":"horizontal","size":26,"thickness":1.6,"color":"#000"},"encoding":{"x":{"field":"x","type":"quantitative","title":null},"y":{"field":"m","type":"quantitative","axis":{"values":[0,1,2,3,4],"title":null}}}},
   {"data":{"name":"panels"},"transform":[{"filter":"datum.p == 'C48'"}],"mark":{"type":"rule","strokeDash":[2,2],"color":"#000","strokeWidth":1.2},"encoding":{"y":{"field":"lod","type":"quantitative","axis":{"values":[0,1,2,3,4],"title":null}}}},
   {"data":{"name":"panels"},"transform":[{"filter":"datum.p == 'C48'"}],"mark":{"type":"rule","color":"#000","strokeWidth":1.5},"encoding":{"x":{"datum":0.77},"x2":{"datum":2.28},"y":{"datum":4.22,"axis":{"values":[0,1,2,3,4],"title":null}}}},
   {"data":{"name":"panels"},"transform":[{"filter":"datum.p == 'C48'"}],"mark":{"type":"text","baseline":"bottom","dy":-2,"fontSize":13,"color":"#000"},"encoding":{"text":{"field":"sig"},"x":{"datum":1.52},"y":{"datum":4.22,"axis":{"values":[0,1,2,3,4],"title":null}}}}
  ]}
 ]}
]},
{"spacing":8,"hconcat":[
{"spacing":4,"hconcat":[
 {"title":{"text":"D","anchor":"start","fontSize":26,"offset":-16,"dx":-6,"frame":"bounds"},"spacing":13,"hconcat":[
  {"width":72,"height":113,"title":{"text":"24 hr","offset":8},"layer":[
   {"data":{"name":"pts"},"transform":[{"filter":"datum.p == 'D24'"}],"mark":{"type":"point","filled":true,"size":32,"opacity":1},"encoding":{
    "x":{"field":"x","type":"quantitative","scale":{"domain":[0.5,2.45],"nice":false,"zero":false},"axis":{"values":[1,2],"title":null,"labelExpr":"datum.value == 1 ? 'B6' : 'Ccr2⁻/⁻'","labelFontStyle":{"condition":{"test":"datum.value == 2","value":"italic"},"value":"normal"}}},
    "y":{"field":"y","type":"quantitative","scale":{"domain":[0,500],"nice":false},"axis":{"values":[0,100,200,300,400,500],"title":"TNF (pg/mL)","titlePadding":-1}},
    "shape":{"field":"g","type":"nominal","scale":{"domain":["B6","Ccr2"],"range":["circle","square"]},"legend":null},
    "color":{"field":"g","type":"nominal","scale":{"domain":["B6","Ccr2"],"range":["#808080","#111111"]},"legend":null}}},
   {"data":{"name":"means"},"transform":[{"filter":"datum.p == 'D24'"}],"mark":{"type":"tick","orient":"horizontal","size":26,"thickness":1.6,"color":"#000"},"encoding":{"x":{"field":"x","type":"quantitative","title":null},"y":{"field":"m","type":"quantitative","axis":{"values":[0,100,200,300,400,500],"title":"TNF (pg/mL)","titlePadding":-1}}}},
   {"data":{"name":"panels"},"transform":[{"filter":"datum.p == 'D24'"}],"mark":{"type":"rule","strokeDash":[2,2],"color":"#000","strokeWidth":1.2},"encoding":{"y":{"field":"lod","type":"quantitative","axis":{"values":[0,100,200,300,400,500],"title":"TNF (pg/mL)","titlePadding":-1}}}},
   {"data":{"name":"panels"},"transform":[{"filter":"datum.p == 'D24'"}],"mark":{"type":"rule","color":"#000","strokeWidth":1.5},"encoding":{"x":{"datum":0.77},"x2":{"datum":2.28},"y":{"datum":522,"axis":{"values":[0,100,200,300,400,500],"title":"TNF (pg/mL)","titlePadding":-1}}}},
   {"data":{"name":"panels"},"transform":[{"filter":"datum.p == 'D24'"}],"mark":{"type":"text","baseline":"alphabetic","dy":1,"fontSize":14,"color":"#000"},"encoding":{"text":{"field":"sig"},"x":{"datum":1.52},"y":{"datum":522,"axis":{"values":[0,100,200,300,400,500],"title":"TNF (pg/mL)","titlePadding":-1}}}}
  ]},
  {"width":72,"height":113,"title":{"text":"48 hr","offset":8},"layer":[
   {"data":{"name":"pts"},"transform":[{"filter":"datum.p == 'D48'"}],"mark":{"type":"point","filled":true,"size":32,"opacity":1},"encoding":{
    "x":{"field":"x","type":"quantitative","scale":{"domain":[0.5,2.45],"nice":false,"zero":false},"axis":{"values":[1,2],"title":null,"labelExpr":"datum.value == 1 ? 'B6' : 'Ccr2⁻/⁻'","labelFontStyle":{"condition":{"test":"datum.value == 2","value":"italic"},"value":"normal"}}},
    "y":{"field":"y","type":"quantitative","scale":{"domain":[0,800],"nice":false},"axis":{"values":[0,200,400,600,800],"title":null}},
    "shape":{"field":"g","type":"nominal","scale":{"domain":["B6","Ccr2"],"range":["circle","square"]},"legend":null},
    "color":{"field":"g","type":"nominal","scale":{"domain":["B6","Ccr2"],"range":["#808080","#111111"]},"legend":null}}},
   {"data":{"name":"means"},"transform":[{"filter":"datum.p == 'D48'"}],"mark":{"type":"tick","orient":"horizontal","size":26,"thickness":1.6,"color":"#000"},"encoding":{"x":{"field":"x","type":"quantitative","title":null},"y":{"field":"m","type":"quantitative","axis":{"values":[0,200,400,600,800],"title":null}}}},
   {"data":{"name":"panels"},"transform":[{"filter":"datum.p == 'D48'"}],"mark":{"type":"rule","strokeDash":[2,2],"color":"#000","strokeWidth":1.2},"encoding":{"y":{"field":"lod","type":"quantitative","axis":{"values":[0,200,400,600,800],"title":null}}}},
   {"data":{"name":"panels"},"transform":[{"filter":"datum.p == 'D48'"}],"mark":{"type":"rule","color":"#000","strokeWidth":1.5},"encoding":{"x":{"datum":0.77},"x2":{"datum":2.28},"y":{"datum":835,"axis":{"values":[0,200,400,600,800],"title":null}}}},
   {"data":{"name":"panels"},"transform":[{"filter":"datum.p == 'D48'"}],"mark":{"type":"text","baseline":"alphabetic","dy":1,"fontSize":14,"color":"#000"},"encoding":{"text":{"field":"sig"},"x":{"datum":1.52},"y":{"datum":835,"axis":{"values":[0,200,400,600,800],"title":null}}}}
  ]}
 ]},
 {"title":{"text":"E","anchor":"start","fontSize":26,"offset":-17,"dx":-6,"frame":"bounds"},"spacing":3,"hconcat":[
  {"width":72,"height":113,"title":"24 hr","layer":[
   {"data":{"name":"pts"},"transform":[{"filter":"datum.p == 'E24'"}],"mark":{"type":"point","filled":true,"size":32,"opacity":1},"encoding":{
    "x":{"field":"x","type":"quantitative","scale":{"domain":[0.5,2.45],"nice":false,"zero":false},"axis":{"values":[1,2],"title":null,"labelExpr":"datum.value == 1 ? 'B6' : 'Ccr2⁻/⁻'","labelFontStyle":{"condition":{"test":"datum.value == 2","value":"italic"},"value":"normal"}}},
    "y":{"field":"y","type":"quantitative","scale":{"domain":[0,400],"nice":false},"axis":{"values":[0,100,200,300,400],"title":"IL-18 (pg/mL)","titlePadding":1}},
    "shape":{"field":"g","type":"nominal","scale":{"domain":["B6","Ccr2"],"range":["circle","square"]},"legend":null},
    "color":{"field":"g","type":"nominal","scale":{"domain":["B6","Ccr2"],"range":["#808080","#111111"]},"legend":null}}},
   {"data":{"name":"means"},"transform":[{"filter":"datum.p == 'E24'"}],"mark":{"type":"tick","orient":"horizontal","size":26,"thickness":1.6,"color":"#000"},"encoding":{"x":{"field":"x","type":"quantitative","title":null},"y":{"field":"m","type":"quantitative","axis":{"values":[0,100,200,300,400],"title":"IL-18 (pg/mL)","titlePadding":1}}}},
   {"data":{"name":"panels"},"transform":[{"filter":"datum.p == 'E24'"}],"mark":{"type":"rule","strokeDash":[2,2],"color":"#000","strokeWidth":1.2},"encoding":{"y":{"field":"lod","type":"quantitative","axis":{"values":[0,100,200,300,400],"title":"IL-18 (pg/mL)","titlePadding":1}}}},
   {"data":{"name":"panels"},"transform":[{"filter":"datum.p == 'E24'"}],"mark":{"type":"rule","color":"#000","strokeWidth":1.5},"encoding":{"x":{"datum":0.77},"x2":{"datum":2.28},"y":{"datum":419,"axis":{"values":[0,100,200,300,400],"title":"IL-18 (pg/mL)","titlePadding":1}}}},
   {"data":{"name":"panels"},"transform":[{"filter":"datum.p == 'E24'"}],"mark":{"type":"text","baseline":"bottom","dy":-2,"fontSize":13,"color":"#000"},"encoding":{"text":{"field":"sig"},"x":{"datum":1.52},"y":{"datum":419,"axis":{"values":[0,100,200,300,400],"title":"IL-18 (pg/mL)","titlePadding":1}}}}
  ]},
  {"width":72,"height":113,"title":"48 hr","layer":[
   {"data":{"name":"pts"},"transform":[{"filter":"datum.p == 'E48'"}],"mark":{"type":"point","filled":true,"size":32,"opacity":1},"encoding":{
    "x":{"field":"x","type":"quantitative","scale":{"domain":[0.5,2.45],"nice":false,"zero":false},"axis":{"values":[1,2],"title":null,"labelExpr":"datum.value == 1 ? 'B6' : 'Ccr2⁻/⁻'","labelFontStyle":{"condition":{"test":"datum.value == 2","value":"italic"},"value":"normal"}}},
    "y":{"field":"y","type":"quantitative","scale":{"domain":[0,300],"nice":false},"axis":{"values":[0,100,200,300],"title":null}},
    "shape":{"field":"g","type":"nominal","scale":{"domain":["B6","Ccr2"],"range":["circle","square"]},"legend":null},
    "color":{"field":"g","type":"nominal","scale":{"domain":["B6","Ccr2"],"range":["#808080","#111111"]},"legend":null}}},
   {"data":{"name":"means"},"transform":[{"filter":"datum.p == 'E48'"}],"mark":{"type":"tick","orient":"horizontal","size":26,"thickness":1.6,"color":"#000"},"encoding":{"x":{"field":"x","type":"quantitative","title":null},"y":{"field":"m","type":"quantitative","axis":{"values":[0,100,200,300],"title":null}}}},
   {"data":{"name":"panels"},"transform":[{"filter":"datum.p == 'E48'"}],"mark":{"type":"rule","strokeDash":[2,2],"color":"#000","strokeWidth":1.2},"encoding":{"y":{"field":"lod","type":"quantitative","axis":{"values":[0,100,200,300],"title":null}}}},
   {"data":{"name":"panels"},"transform":[{"filter":"datum.p == 'E48'"}],"mark":{"type":"rule","color":"#000","strokeWidth":1.5},"encoding":{"x":{"datum":0.77},"x2":{"datum":2.28},"y":{"datum":314,"axis":{"values":[0,100,200,300],"title":null}}}},
   {"data":{"name":"panels"},"transform":[{"filter":"datum.p == 'E48'"}],"mark":{"type":"text","baseline":"bottom","dy":-2,"fontSize":13,"color":"#000"},"encoding":{"text":{"field":"sig"},"x":{"datum":1.52},"y":{"datum":314,"axis":{"values":[0,100,200,300],"title":null}}}}
  ]}
 ]}
]},
 {"title":{"text":"F","anchor":"start","fontSize":26,"offset":-17,"dx":-6,"frame":"bounds"},"spacing":1,"hconcat":[
  {"width":76,"height":113,"title":{"text":"24 hr","offset":8},"layer":[
   {"data":{"name":"pts"},"transform":[{"filter":"datum.p == 'F24'"}],"mark":{"type":"point","filled":true,"size":32,"opacity":1},"encoding":{
    "x":{"field":"x","type":"quantitative","scale":{"domain":[0.5,2.45],"nice":false,"zero":false},"axis":{"values":[1,2],"title":null,"labelExpr":"datum.value == 1 ? 'B6' : 'Ccr2⁻/⁻'","labelFontStyle":{"condition":{"test":"datum.value == 2","value":"italic"},"value":"normal"}}},
    "y":{"field":"y","type":"quantitative","scale":{"domain":[0,100],"nice":false},"axis":{"values":[0,20,40,60,80,100],"title":"IL-12p70 (pg/mL)","titlePadding":0}},
    "shape":{"field":"g","type":"nominal","scale":{"domain":["B6","Ccr2"],"range":["circle","square"]},"legend":null},
    "color":{"field":"g","type":"nominal","scale":{"domain":["B6","Ccr2"],"range":["#808080","#111111"]},"legend":null}}},
   {"data":{"name":"means"},"transform":[{"filter":"datum.p == 'F24'"}],"mark":{"type":"tick","orient":"horizontal","size":26,"thickness":1.6,"color":"#000"},"encoding":{"x":{"field":"x","type":"quantitative","title":null},"y":{"field":"m","type":"quantitative","axis":{"values":[0,20,40,60,80,100],"title":"IL-12p70 (pg/mL)","titlePadding":0}}}},
   {"data":{"name":"panels"},"transform":[{"filter":"datum.p == 'F24'"}],"mark":{"type":"rule","strokeDash":[2,2],"color":"#000","strokeWidth":1.2},"encoding":{"y":{"field":"lod","type":"quantitative","axis":{"values":[0,20,40,60,80,100],"title":"IL-12p70 (pg/mL)","titlePadding":0}}}},
   {"data":{"name":"panels"},"transform":[{"filter":"datum.p == 'F24'"}],"mark":{"type":"rule","color":"#000","strokeWidth":1.5},"encoding":{"x":{"datum":0.77},"x2":{"datum":2.28},"y":{"datum":104.4,"axis":{"values":[0,20,40,60,80,100],"title":"IL-12p70 (pg/mL)","titlePadding":0}}}},
   {"data":{"name":"panels"},"transform":[{"filter":"datum.p == 'F24'"}],"mark":{"type":"text","baseline":"alphabetic","dy":1,"fontSize":14,"color":"#000"},"encoding":{"text":{"field":"sig"},"x":{"datum":1.52},"y":{"datum":104.4,"axis":{"values":[0,20,40,60,80,100],"title":"IL-12p70 (pg/mL)","titlePadding":0}}}}
  ]},
  {"width":72,"height":113,"title":{"text":"48 hr","offset":8},"layer":[
   {"data":{"name":"pts"},"transform":[{"filter":"datum.p == 'F48'"}],"mark":{"type":"point","filled":true,"size":32,"opacity":1},"encoding":{
    "x":{"field":"x","type":"quantitative","scale":{"domain":[0.5,2.45],"nice":false,"zero":false},"axis":{"values":[1,2],"title":null,"labelExpr":"datum.value == 1 ? 'B6' : 'Ccr2⁻/⁻'","labelFontStyle":{"condition":{"test":"datum.value == 2","value":"italic"},"value":"normal"}}},
    "y":{"field":"y","type":"quantitative","scale":{"domain":[0,300],"nice":false},"axis":{"values":[0,100,200,300],"title":null}},
    "shape":{"field":"g","type":"nominal","scale":{"domain":["B6","Ccr2"],"range":["circle","square"]},"legend":null},
    "color":{"field":"g","type":"nominal","scale":{"domain":["B6","Ccr2"],"range":["#808080","#111111"]},"legend":null}}},
   {"data":{"name":"means"},"transform":[{"filter":"datum.p == 'F48'"}],"mark":{"type":"tick","orient":"horizontal","size":26,"thickness":1.6,"color":"#000"},"encoding":{"x":{"field":"x","type":"quantitative","title":null},"y":{"field":"m","type":"quantitative","axis":{"values":[0,100,200,300],"title":null}}}},
   {"data":{"name":"panels"},"transform":[{"filter":"datum.p == 'F48'"}],"mark":{"type":"rule","strokeDash":[2,2],"color":"#000","strokeWidth":1.2},"encoding":{"y":{"field":"lod","type":"quantitative","axis":{"values":[0,100,200,300],"title":null}}}},
   {"data":{"name":"panels"},"transform":[{"filter":"datum.p == 'F48'"}],"mark":{"type":"rule","color":"#000","strokeWidth":1.5},"encoding":{"x":{"datum":0.77},"x2":{"datum":2.28},"y":{"datum":313,"axis":{"values":[0,100,200,300],"title":null}}}},
   {"data":{"name":"panels"},"transform":[{"filter":"datum.p == 'F48'"}],"mark":{"type":"text","baseline":"alphabetic","dy":1,"fontSize":14,"color":"#000"},"encoding":{"text":{"field":"sig"},"x":{"datum":1.52},"y":{"datum":313,"axis":{"values":[0,100,200,300],"title":null}}}}
  ]}
 ]}
]}
]},
{"hconcat":[
 {"title":{"text":"G","anchor":"start","fontSize":26,"offset":-11,"dx":-6,"frame":"bounds"},"spacing":16.5,"hconcat":[
  {"width":72,"height":110,"title":{"text":"24 hr","offset":8},"layer":[
   {"data":{"name":"pts"},"transform":[{"filter":"datum.p == 'G24'"}],"mark":{"type":"point","filled":true,"size":32,"opacity":1},"encoding":{
    "x":{"field":"x","type":"quantitative","scale":{"domain":[0.5,2.45],"nice":false,"zero":false},"axis":{"values":[1,2],"title":null,"labelExpr":"datum.value == 1 ? 'B6' : 'Ccr2⁻/⁻'","labelFontStyle":{"condition":{"test":"datum.value == 2","value":"italic"},"value":"normal"}}},
    "y":{"field":"y","type":"quantitative","scale":{"domain":[0,2.5],"nice":false},"axis":{"values":[0,0.5,1,1.5,2,2.5],"labelExpr":"datum.value == 0 ? '0' : format(datum.value, '.1f')","title":"IL-12p40 (ng/mL)","titlePadding":3}},
    "shape":{"field":"g","type":"nominal","scale":{"domain":["B6","Ccr2"],"range":["circle","square"]},"legend":null},
    "color":{"field":"g","type":"nominal","scale":{"domain":["B6","Ccr2"],"range":["#808080","#111111"]},"legend":null}}},
   {"data":{"name":"means"},"transform":[{"filter":"datum.p == 'G24'"}],"mark":{"type":"tick","orient":"horizontal","size":26,"thickness":1.6,"color":"#000"},"encoding":{"x":{"field":"x","type":"quantitative","title":null},"y":{"field":"m","type":"quantitative","axis":{"values":[0,0.5,1,1.5,2,2.5],"labelExpr":"datum.value == 0 ? '0' : format(datum.value, '.1f')","title":"IL-12p40 (ng/mL)","titlePadding":3}}}},
   {"data":{"name":"panels"},"transform":[{"filter":"datum.p == 'G24'"}],"mark":{"type":"rule","strokeDash":[2,2],"color":"#000","strokeWidth":1.2},"encoding":{"y":{"field":"lod","type":"quantitative","axis":{"values":[0,0.5,1,1.5,2,2.5],"labelExpr":"datum.value == 0 ? '0' : format(datum.value, '.1f')","title":"IL-12p40 (ng/mL)","titlePadding":3}}}},
   {"data":{"name":"panels"},"transform":[{"filter":"datum.p == 'G24'"}],"mark":{"type":"rule","color":"#000","strokeWidth":1.5},"encoding":{"x":{"datum":0.77},"x2":{"datum":2.28},"y":{"datum":2.59,"axis":{"values":[0,0.5,1,1.5,2,2.5],"labelExpr":"datum.value == 0 ? '0' : format(datum.value, '.1f')","title":"IL-12p40 (ng/mL)","titlePadding":3}}}},
   {"data":{"name":"panels"},"transform":[{"filter":"datum.p == 'G24'"}],"mark":{"type":"text","baseline":"alphabetic","dy":1,"fontSize":14,"color":"#000"},"encoding":{"text":{"field":"sig"},"x":{"datum":1.52},"y":{"datum":2.59,"axis":{"values":[0,0.5,1,1.5,2,2.5],"labelExpr":"datum.value == 0 ? '0' : format(datum.value, '.1f')","title":"IL-12p40 (ng/mL)","titlePadding":3}}}}
  ]},
  {"width":72,"height":110,"title":{"text":"48 hr","offset":8},"layer":[
   {"data":{"name":"pts"},"transform":[{"filter":"datum.p == 'G48'"}],"mark":{"type":"point","filled":true,"size":32,"opacity":1},"encoding":{
    "x":{"field":"x","type":"quantitative","scale":{"domain":[0.5,2.45],"nice":false,"zero":false},"axis":{"values":[1,2],"title":null,"labelExpr":"datum.value == 1 ? 'B6' : 'Ccr2⁻/⁻'","labelFontStyle":{"condition":{"test":"datum.value == 2","value":"italic"},"value":"normal"}}},
    "y":{"field":"y","type":"quantitative","scale":{"domain":[0,15],"nice":false},"axis":{"values":[0,5,10,15],"title":null}},
    "shape":{"field":"g","type":"nominal","scale":{"domain":["B6","Ccr2"],"range":["circle","square"]},"legend":null},
    "color":{"field":"g","type":"nominal","scale":{"domain":["B6","Ccr2"],"range":["#808080","#111111"]},"legend":null}}},
   {"data":{"name":"means"},"transform":[{"filter":"datum.p == 'G48'"}],"mark":{"type":"tick","orient":"horizontal","size":26,"thickness":1.6,"color":"#000"},"encoding":{"x":{"field":"x","type":"quantitative","title":null},"y":{"field":"m","type":"quantitative","axis":{"values":[0,5,10,15],"title":null}}}},
   {"data":{"name":"panels"},"transform":[{"filter":"datum.p == 'G48'"}],"mark":{"type":"rule","strokeDash":[2,2],"color":"#000","strokeWidth":1.2},"encoding":{"y":{"field":"lod","type":"quantitative","axis":{"values":[0,5,10,15],"title":null}}}},
   {"data":{"name":"panels"},"transform":[{"filter":"datum.p == 'G48'"}],"mark":{"type":"rule","color":"#000","strokeWidth":1.5},"encoding":{"x":{"datum":0.77},"x2":{"datum":2.28},"y":{"datum":15.55,"axis":{"values":[0,5,10,15],"title":null}}}},
   {"data":{"name":"panels"},"transform":[{"filter":"datum.p == 'G48'"}],"mark":{"type":"text","baseline":"alphabetic","dy":1,"fontSize":14,"color":"#000"},"encoding":{"text":{"field":"sig"},"x":{"datum":1.52},"y":{"datum":15.55,"axis":{"values":[0,5,10,15],"title":null}}}}
  ]}
 ]}
]}
]
}
